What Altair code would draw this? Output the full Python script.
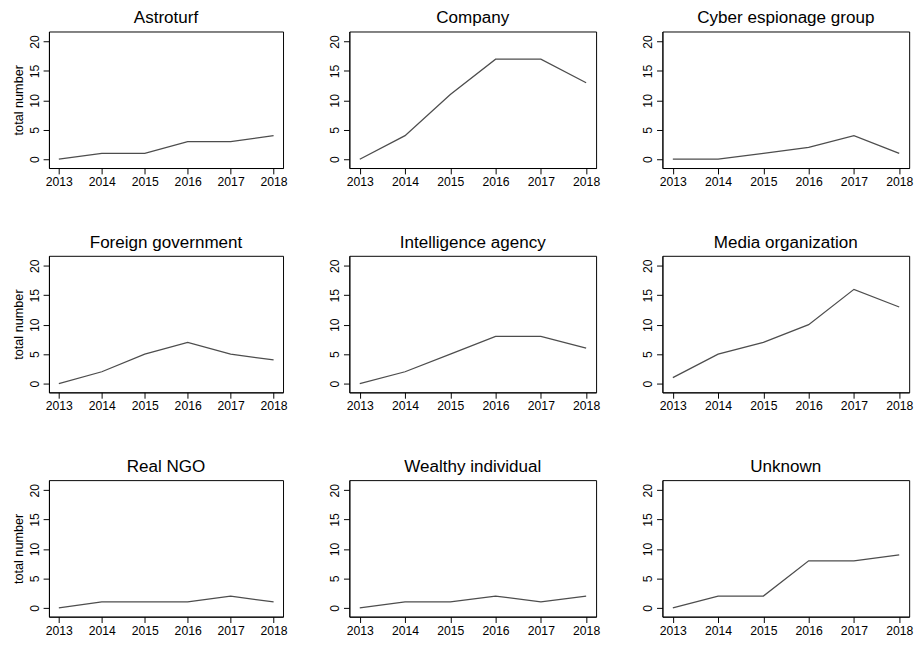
import altair as alt
import pandas as pd

years = [2013, 2014, 2015, 2016, 2017, 2018]
categories = ["Astroturf", "Company", "Cyber espionage group",
              "Foreign government", "Intelligence agency", "Media organization",
              "Real NGO", "Wealthy individual", "Unknown"]
astroturf = [0, 1, 1, 3, 3, 4]
company = [0, 4, 11, 17, 17, 13]
cyber_espionage = [0, 0, 1, 2, 4, 1]
foreign_government = [0, 2, 5, 7, 5, 4]
intelligence_agency = [0, 2, 5, 8, 8, 6]
media_organization = [1, 5, 7, 10, 16, 13]
real_ngo = [0, 1, 1, 1, 2, 1]
wealthy_individual = [0, 1, 1, 2, 1, 2]
unknown = [0, 2, 2, 8, 8, 9]
y_ticks = [0, 5, 10, 15, 20]

series = [astroturf, company, cyber_espionage, foreign_government,
          intelligence_agency, media_organization, real_ngo,
          wealthy_individual, unknown]

FONT = "Liberation Sans"


def panel(i):
    name = categories[i]
    first_col = (i % 3 == 0)
    df = pd.DataFrame({"year": years, "count": series[i]})
    y_axis = dict(values=y_ticks, labelAngle=270, labelAlign="center",
                  labelBaseline="bottom", tickSize=6, labelPadding=2,
                  grid=False)
    if first_col:
        y_axis["title"] = "total number"
    else:
        y_axis["title"] = None
    return alt.Chart(df).mark_line(color="#4d4d4d", strokeWidth=1.3).encode(
        x=alt.X("year:Q",
                scale=alt.Scale(domain=[2012.77, 2018.22], nice=False, zero=False),
                axis=alt.Axis(values=years, format="d", title=None, tickSize=6,
                              labelPadding=2, grid=False)),
        y=alt.Y("count:Q",
                scale=alt.Scale(domain=[-1.5, 21.7], nice=False, zero=False),
                axis=alt.Axis(**y_axis)),
    ).properties(
        width=240 if first_col else 253,
        height=140,
        title=alt.TitleParams(name, fontSize=17.5, fontWeight="normal", font=FONT,
                              color="black", frame="group", anchor="middle",
                              offset=5),
    )


chart = alt.concat(*[panel(i) for i in range(9)], columns=3,
                   spacing={"row": 46, "column": 41}).configure_view(
    stroke="black", strokeWidth=1
).configure_axis(
    domainColor="black", tickColor="black", labelColor="black",
    labelFont=FONT, labelFontSize=12.5, titleFont=FONT, titleFontSize=13,
    titleFontWeight="normal", titleColor="black", titlePadding=3,
    domainWidth=1, tickWidth=1,
).properties(background="white",
             padding={"top": -7, "left": 4, "right": 2, "bottom": 2})

chart.save("out.html", embed_options={"renderer": "svg", "actions": False})
